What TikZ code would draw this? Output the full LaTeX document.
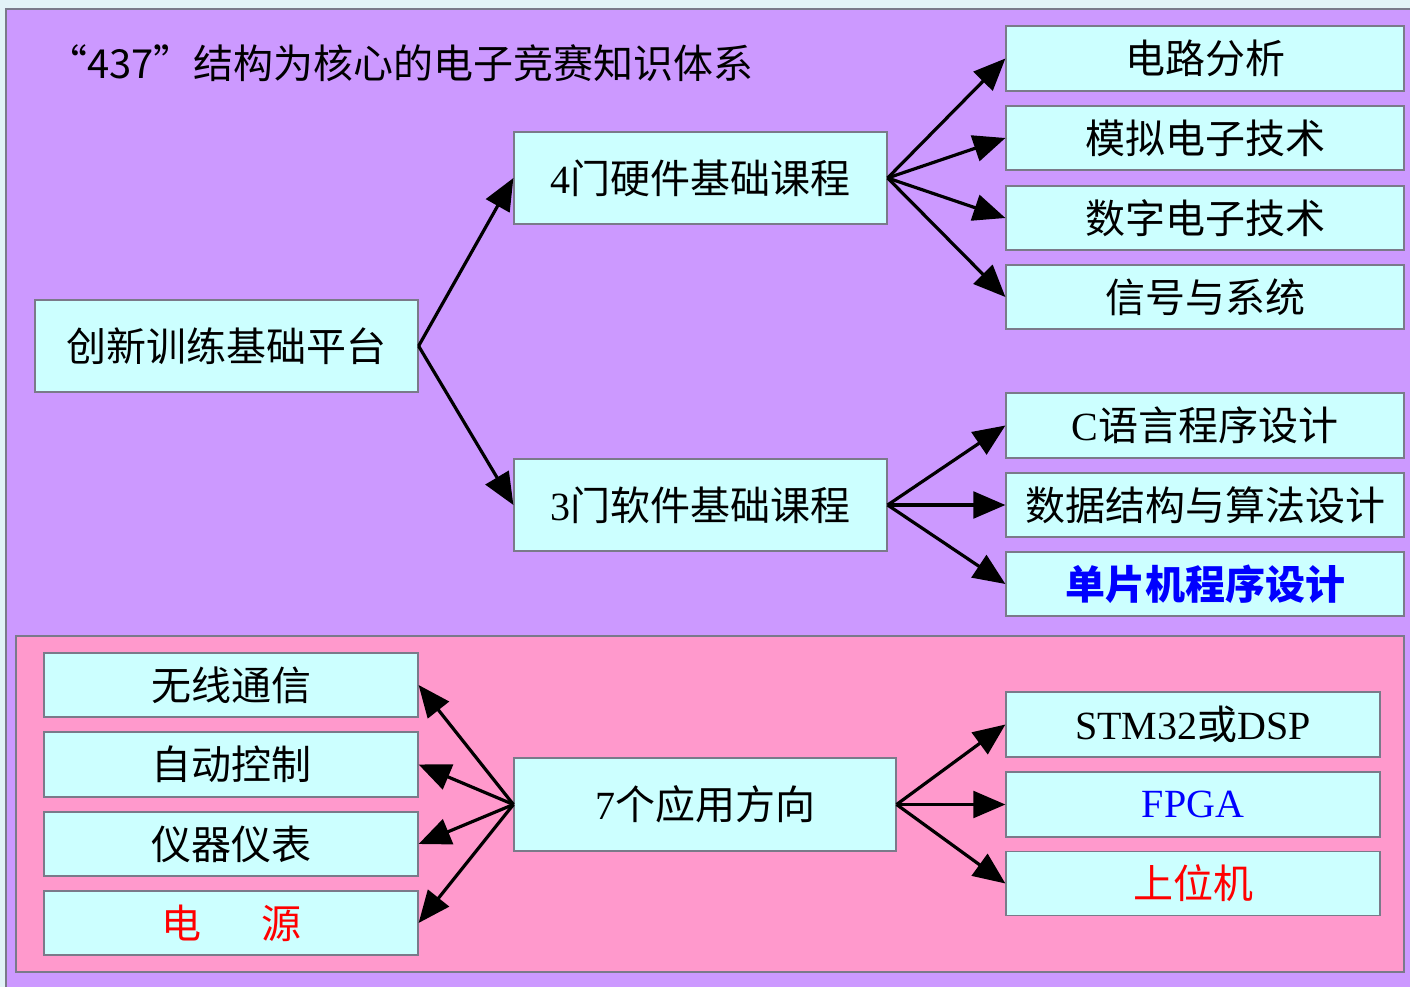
\documentclass[tikz,border=0pt]{standalone}
\usepackage{fontspec}
\setmainfont{Liberation Serif}
\newfontfamily\cjk{Noto Sans CJK SC}
\usetikzlibrary{arrows.meta}
\definecolor{outerbg}{HTML}{E2F3F7}
\definecolor{purplebg}{HTML}{CC99FF}
\definecolor{pinkbg}{HTML}{FF99CC}
\definecolor{boxfill}{HTML}{CCFFFF}
\definecolor{boxline}{HTML}{7A7A8A}
\definecolor{txtblue}{HTML}{0000FF}
\definecolor{txtred}{HTML}{FF0000}
\newcommand{\boxfont}{\fontsize{30}{36}\selectfont}
\tikzset{
  box/.style={draw=boxline, line width=0.9pt, fill=boxfill, rectangle, inner sep=0pt, font=\boxfont\cjk},
  bw/.style={minimum width={#1*0.75pt}},
  bh/.style={minimum height={#1*0.75pt}},
  conn/.style={line width=2.4pt, -{Triangle[length=24pt,width=20pt]}},
}
\begin{document}
\begin{tikzpicture}[x=0.75pt,y=-0.75pt]
\useasboundingbox (0,0) rectangle (1410,987);
\fill[outerbg] (0,0) rectangle (1410,987);
\filldraw[fill=purplebg, draw=boxline, line width=0.9pt] (6,9) rectangle (1416,995);
\filldraw[fill=pinkbg, draw=boxline, line width=0.9pt] (16,636) rectangle (1404,972);

\node[anchor=west, font=\fontsize{30}{36}\selectfont\cjk, inner sep=0pt] (title) at (47,63) {“437”结构为核心的电子竞赛知识体系};

\node[box, bw=383, bh=92] (plat) at (226.5,346) {创新训练基础平台};
\node[box, bw=373, bh=92] (hw) at (700.5,178) {\rmfamily 4\cjk 门硬件基础课程};
\node[box, bw=373, bh=92] (sw) at (700.5,505) {\rmfamily 3\cjk 门软件基础课程};

\node[box, bw=398, bh=65] (r1) at (1205,58.5) {电路分析};
\node[box, bw=398, bh=64] (r2) at (1205,138) {模拟电子技术};
\node[box, bw=398, bh=64] (r3) at (1205,218) {数字电子技术};
\node[box, bw=398, bh=64] (r4) at (1205,297) {信号与系统};
\node[box, bw=398, bh=65] (r5) at (1205,425.5) {\rmfamily C\cjk 语言程序设计};
\node[box, bw=398, bh=64] (r6) at (1205,505) {数据结构与算法设计};
\node[box, bw=398, bh=64] (r7) at (1205,584) {\color{txtblue}\bfseries 单片机程序设计};

\node[box, bw=374, bh=64] (l1) at (231,685) {无线通信};
\node[box, bw=374, bh=65] (l2) at (231,764.5) {自动控制};
\node[box, bw=374, bh=64] (l3) at (231,844) {仪器仪表};
\node[box, bw=374, bh=64] (l4) at (231,923) {\color{txtred}电\hspace{1.5em}源};

\node[box, bw=382, bh=93] (app) at (705,804.5) {\rmfamily 7\cjk 个应用方向};

\node[box, bw=374, bh=65] (b1) at (1193,724.5) {\rmfamily STM32\cjk 或\rmfamily DSP};
\node[box, bw=374, bh=65] (b2) at (1193,804.5) {\rmfamily\color{txtblue}FPGA};
\node[box, bw=374, bh=64] (b3) at (1193,883.5) {\color{txtred}上位机};

\draw[conn] (plat.east) -- (hw.west);
\draw[conn] (plat.east) -- (sw.west);
\foreach \t in {r1,r2,r3,r4} \draw[conn] (hw.east) -- (\t.west);
\foreach \t in {r5,r6,r7} \draw[conn] (sw.east) -- (\t.west);
\foreach \t in {l1,l2,l3,l4} \draw[conn] (app.west) -- (\t.east);
\foreach \t in {b1,b2,b3} \draw[conn] (app.east) -- (\t.west);
\end{tikzpicture}
\end{document}
